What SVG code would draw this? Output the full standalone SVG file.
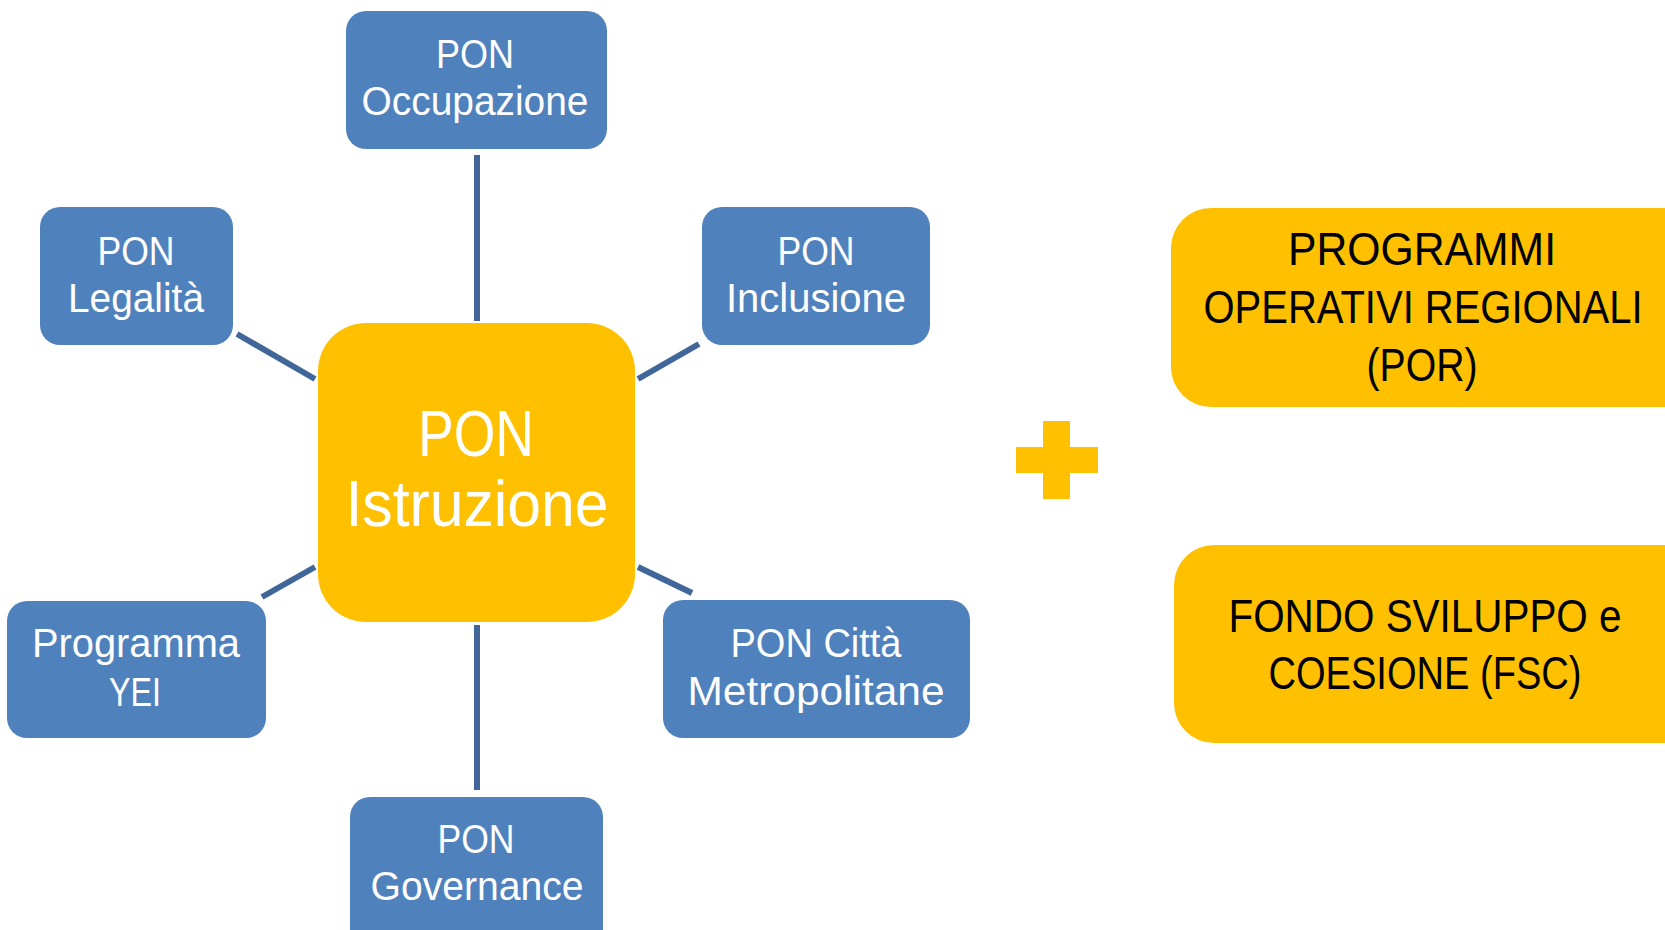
<svg xmlns="http://www.w3.org/2000/svg" width="1665" height="930" viewBox="0 0 1665 930">
<style>
.blue{fill:#4F81BD}
.gold{fill:#FFC000}
.conn{stroke:#41679A;stroke-width:6;fill:none}
text{font-family:"Liberation Sans Narrow","Liberation Sans",Arial,sans-serif;text-anchor:middle}
.w{fill:#FFFFFF;font-size:40px}
.c{fill:#FFFFFF;font-size:64px}
.k{fill:#000000;font-size:46px}
</style>
<rect width="1665" height="930" fill="#FFFFFF"/>
<g id="connectors">
<line class="conn" x1="477" y1="155" x2="477" y2="321"/>
<line class="conn" x1="237" y1="334" x2="315" y2="379"/>
<line class="conn" x1="699" y1="344" x2="638" y2="379"/>
<line class="conn" x1="262" y1="597" x2="315" y2="567"/>
<line class="conn" x1="692" y1="593" x2="638" y2="567"/>
<line class="conn" x1="477" y1="625" x2="477" y2="790"/>
</g>
<g id="istruzione">
<rect class="gold" x="318" y="323" width="317" height="299" rx="48" ry="48"/>
<text class="c" x="476" y="456" textLength="116" lengthAdjust="spacingAndGlyphs">PON</text>
<text class="c" x="477" y="526" textLength="263" lengthAdjust="spacingAndGlyphs">Istruzione</text>
</g>
<g id="occupazione">
<rect class="blue" x="346" y="11" width="261" height="138" rx="20" ry="20"/>
<text class="w" x="475" y="68" textLength="78" lengthAdjust="spacingAndGlyphs">PON</text>
<text class="w" x="475" y="115" textLength="227" lengthAdjust="spacingAndGlyphs">Occupazione</text>
</g>
<g id="legalita">
<rect class="blue" x="40" y="207" width="193" height="138" rx="20" ry="20"/>
<text class="w" x="136" y="265" textLength="77" lengthAdjust="spacingAndGlyphs">PON</text>
<text class="w" x="136" y="312" textLength="136" lengthAdjust="spacingAndGlyphs">Legalità</text>
</g>
<g id="inclusione">
<rect class="blue" x="702" y="207" width="228" height="138" rx="20" ry="20"/>
<text class="w" x="816" y="265" textLength="77" lengthAdjust="spacingAndGlyphs">PON</text>
<text class="w" x="816" y="312" textLength="180" lengthAdjust="spacingAndGlyphs">Inclusione</text>
</g>
<g id="yei">
<rect class="blue" x="7" y="601" width="259" height="137" rx="20" ry="20"/>
<text class="w" x="136" y="657" textLength="208" lengthAdjust="spacingAndGlyphs">Programma</text>
<text class="w" x="135" y="706" textLength="52" lengthAdjust="spacingAndGlyphs">YEI</text>
</g>
<g id="citta">
<rect class="blue" x="663" y="600" width="307" height="138" rx="20" ry="20"/>
<text class="w" x="816" y="657" textLength="171" lengthAdjust="spacingAndGlyphs">PON Città</text>
<text class="w" x="816" y="705" textLength="257" lengthAdjust="spacingAndGlyphs">Metropolitane</text>
</g>
<g id="governance">
<rect class="blue" x="350" y="797" width="253" height="160" rx="20" ry="20"/>
<text class="w" x="476" y="853" textLength="77" lengthAdjust="spacingAndGlyphs">PON</text>
<text class="w" x="477" y="900" textLength="213" lengthAdjust="spacingAndGlyphs">Governance</text>
</g>
<g id="plus">
<rect class="gold" x="1043" y="421" width="27" height="78"/>
<rect class="gold" x="1016" y="447" width="82" height="26"/>
</g>
<g id="por">
<rect class="gold" x="1171" y="208" width="540" height="199" rx="40" ry="40"/>
<text class="k" x="1422" y="265" textLength="268" lengthAdjust="spacingAndGlyphs">PROGRAMMI</text>
<text class="k" x="1423" y="323" textLength="439" lengthAdjust="spacingAndGlyphs">OPERATIVI REGIONALI</text>
<text class="k" x="1422" y="381" textLength="111" lengthAdjust="spacingAndGlyphs">(POR)</text>
</g>
<g id="fsc">
<rect class="gold" x="1174" y="545" width="540" height="198" rx="40" ry="40"/>
<text class="k" x="1425" y="632" textLength="393" lengthAdjust="spacingAndGlyphs">FONDO SVILUPPO e</text>
<text class="k" x="1425" y="689" textLength="313" lengthAdjust="spacingAndGlyphs">COESIONE (FSC)</text>
</g>
</svg>
